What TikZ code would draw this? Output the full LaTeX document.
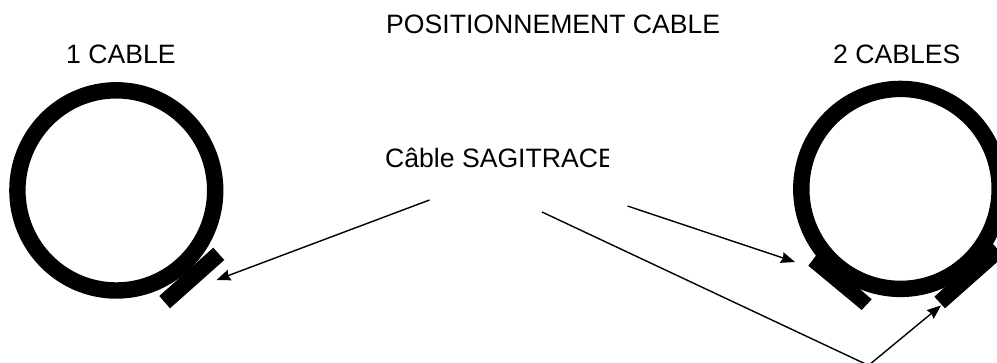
\documentclass[tikz,border=0pt]{standalone}
\usepackage{fontspec}
\setmainfont{Liberation Sans}
\usetikzlibrary{arrows.meta}
\tikzset{
  label/.style = {anchor = base west, inner sep = 0pt, font = \fontsize{26.6}{30}\selectfont},
  ring/.style = {line width = 16.4pt},
  cable/.style = {fill = black},
  lead/.style = {line width = 1.4pt},
  pointer/.style = {lead, -{Stealth[length = 14pt, width = 11pt, inset = 1.5pt]}}
}
\begin{document}
\begin{tikzpicture}[x = 1pt, y = -1pt]
\useasboundingbox (0,0) rectangle (997,362);
\clip (0,0) rectangle (997,362);

\node[label] (title) at (386,33) {POSITIONNEMENT CABLE};
\node[label] (one) at (66,63) {1 CABLE};
\node[label] (two) at (833,63) {2 CABLES};

\begin{scope}
\clip (380,140) rectangle (608,180);
\node[label] (name) at (385,167.5) {Câble SAGITRACE};
\end{scope}

% rings
\draw[ring] (116.3,190.4) ellipse (98.9pt and 100.1pt);
\draw[ring] (900.5,188.9) ellipse (99.2pt and 100pt);

% cables
\fill[cable] (213.3,247.7) -- (224.3,260) -- (170,308.3) -- (159.3,296) -- cycle;
\fill[cable] (818,253) -- (871.7,299.3) -- (861.7,310) -- (808.3,265.7) -- cycle;
\fill[cable] (993,244) -- (1004,256) -- (945,308.3) -- (934.3,296.7) -- cycle;

% leads
\coordinate (from1) at (429.5,200);
\coordinate (to1) at (216.5,280);
\coordinate (from2) at (627.5,206);
\coordinate (to2) at (795,262);
\coordinate (from3) at (542,212);
\coordinate (joint) at (868.5,365.4);
\coordinate (to3) at (941,305.5);

\draw[pointer] (from1) -- (to1);
\draw[pointer] (from2) -- (to2);
\draw[lead] (from3) -- (joint);
\draw[pointer] (joint) -- (to3);
\end{tikzpicture}
\end{document}
